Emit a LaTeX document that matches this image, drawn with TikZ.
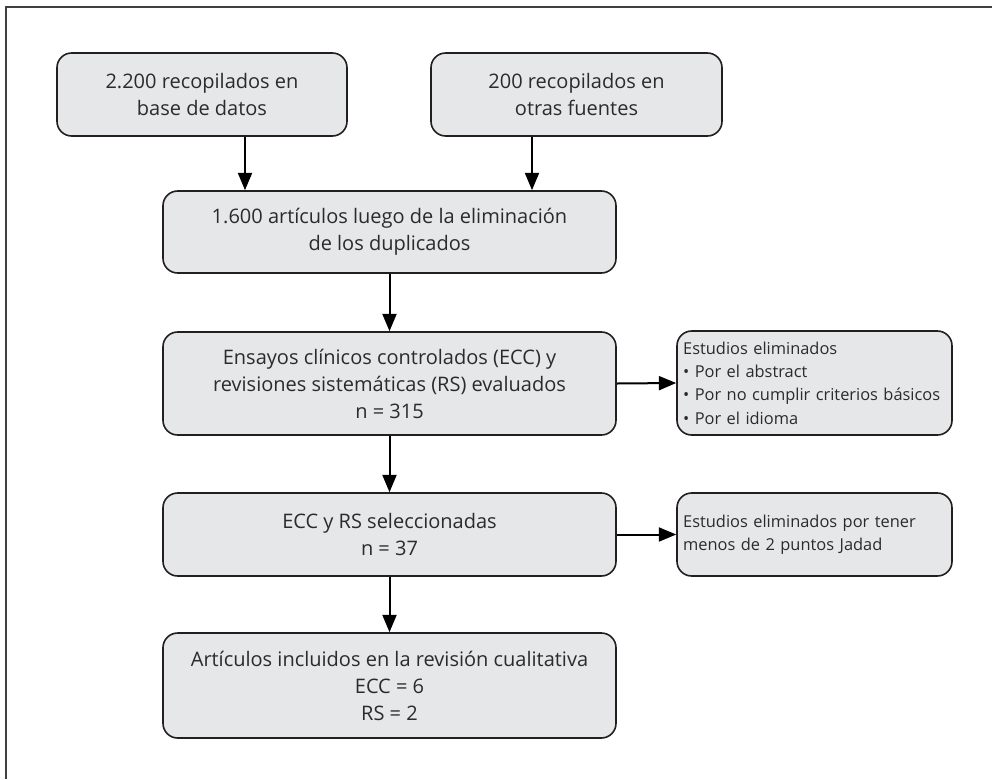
\documentclass[tikz,border=0pt]{standalone}
\usepackage{fontspec}
\setmainfont{Open Sans}
\usetikzlibrary{arrows.meta,calc}
\definecolor{boxfill}{HTML}{E6E7E8}
\definecolor{boxline}{HTML}{231F20}
\definecolor{txt}{HTML}{2B2B2B}
\hyphenpenalty=10000
\begin{document}
\begin{tikzpicture}[x=0.75pt,y=-0.75pt,
  box/.style={draw=boxline, fill=boxfill, line width=1.2pt, rounded corners=11pt,
    text=txt, align=center, font=\fontsize{15}{20.25}\selectfont, inner sep=0pt},
  sidebox/.style={draw=boxline, fill=boxfill, line width=1.2pt, rounded corners=11pt,
    text=txt, align=left, font=\fontsize{12.3}{17.5}\selectfont,
    inner xsep=4.5pt, text width=197pt, minimum width=206.25pt},
  arr/.style={line width=1.5pt, draw=black, -{Triangle[length=13pt,width=10.5pt]}}]
\useasboundingbox (0,0) rectangle (992,779);
\draw[line width=1.5pt, draw=black!75] (6,779) -- (6,7) -- (992,7);

\node[box, minimum width=217.5pt, minimum height=62.25pt] (A) at (202,94.5)
  {2.200 recopilados en\\base de datos};
\node[box, minimum width=218.25pt, minimum height=62.25pt] (B) at (576.5,94.5)
  {200 recopilados en\\otras fuentes};
\node[box, minimum width=339.75pt, minimum height=61.5pt] (C) at (389.5,232)
  {1.600 artículos luego de la eliminación\\de los duplicados};
\node[box, minimum width=339.75pt, minimum height=77.25pt] (D) at (389.5,383.5)
  {Ensayos clínicos controlados (ECC) y\\revisiones sistemáticas (RS) evaluados\\n = 315};
\node[box, minimum width=339.75pt, minimum height=62.25pt] (F) at (389.5,534.5)
  {ECC y RS seleccionadas\\n = 37};
\node[box, minimum width=339.75pt, minimum height=78.75pt] (G) at (389.5,685.5)
  {Artículos incluidos en la revisión cualitativa\\ECC = 6\\RS = 2};
\node[sidebox, minimum height=78pt] (E) at (814.5,383)
  {Estudios eliminados\\• Por el abstract\\• Por no cumplir criterios básicos\\• Por el idioma};
\node[sidebox, minimum height=62.25pt] (H) at (814.5,534.5)
  {Estudios eliminados por tener\\menos de 2 puntos Jadad};

\coordinate (a1) at ($(A.south)+(43,0)$);
\coordinate (b1) at ($(B.south)+(-44.5,0)$);
\draw[arr] (a1) -- (a1 |- C.north);
\draw[arr] (b1) -- (b1 |- C.north);
\draw[arr] (C.south) -- (D.north);
\draw[arr] (D.east) -- (E.west);
\draw[arr] (D.south) -- (F.north);
\draw[arr] (F.east) -- (H.west);
\draw[arr] (F.south) -- (G.north);
\end{tikzpicture}
\end{document}
